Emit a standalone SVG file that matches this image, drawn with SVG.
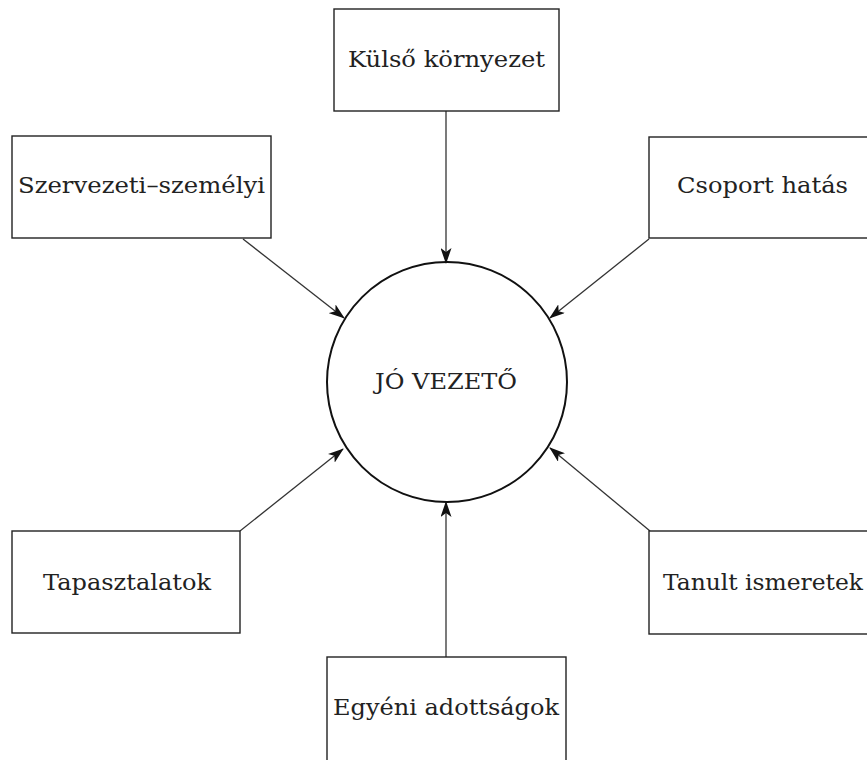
<svg xmlns="http://www.w3.org/2000/svg" width="867" height="760" viewBox="0 0 867 760">
<style>
.box{fill:#fff;stroke:#222;stroke-width:1.4}
.lbl{font-family:"DejaVu Serif","Liberation Serif",serif;font-size:22px;fill:#222;text-anchor:middle}
.conn{stroke:#333;stroke-width:1.3;fill:none;marker-end:url(#ah)}
</style>
<defs>
<marker id="ah" viewBox="0 0 16 11" refX="15" refY="5.5" markerWidth="16" markerHeight="11" markerUnits="userSpaceOnUse" orient="auto">
<path d="M0,0 L16,5.5 L0,11 L4,5.5 z" fill="#111"/>
</marker>
</defs>
<rect width="867" height="760" fill="#fff"/>
<g id="connectors">
<line class="conn" x1="446" y1="111" x2="446" y2="263"/>
<line class="conn" x1="446" y1="657" x2="446" y2="502"/>
<line class="conn" x1="243" y1="239" x2="344" y2="318"/>
<line class="conn" x1="649" y1="239" x2="550" y2="318"/>
<line class="conn" x1="240" y1="531" x2="343" y2="449"/>
<line class="conn" x1="650" y1="531" x2="550" y2="448"/>
</g>
<g id="center">
<circle cx="447" cy="382" r="120" fill="none" stroke="#111" stroke-width="2"/>
<text class="lbl" x="446" y="389" textLength="142" lengthAdjust="spacingAndGlyphs">JÓ VEZETŐ</text>
</g>
<g id="kulso">
<rect class="box" x="334" y="9" width="225" height="102"/>
<text class="lbl" x="446.5" y="67" textLength="197" lengthAdjust="spacingAndGlyphs">Külső környezet</text>
</g>
<g id="szervezeti">
<rect class="box" x="12" y="136" width="259" height="102"/>
<text class="lbl" x="141.5" y="193" textLength="247" lengthAdjust="spacingAndGlyphs">Szervezeti–személyi</text>
</g>
<g id="csoport">
<rect class="box" x="649" y="137" width="228" height="101"/>
<text class="lbl" x="762.5" y="193" textLength="171" lengthAdjust="spacingAndGlyphs">Csoport hatás</text>
</g>
<g id="tapasztalatok">
<rect class="box" x="12" y="531" width="228" height="102"/>
<text class="lbl" x="127" y="590" textLength="168" lengthAdjust="spacingAndGlyphs">Tapasztalatok</text>
</g>
<g id="tanult">
<rect class="box" x="649" y="531" width="228" height="103"/>
<text class="lbl" x="763" y="590" textLength="200" lengthAdjust="spacingAndGlyphs">Tanult ismeretek</text>
</g>
<g id="egyeni">
<rect class="box" x="327" y="657" width="239" height="120"/>
<text class="lbl" x="446" y="715" textLength="226" lengthAdjust="spacingAndGlyphs">Egyéni adottságok</text>
</g>
</svg>
